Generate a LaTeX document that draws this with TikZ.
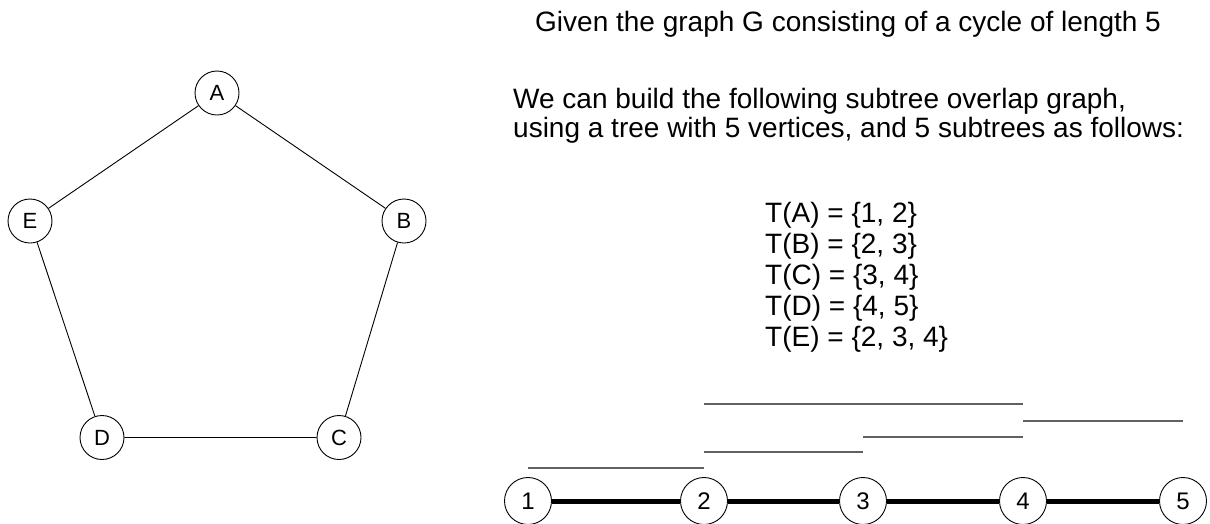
\documentclass[tikz,border=0pt]{standalone}
\usepackage{fontspec}
\setmainfont{Liberation Sans}
\begin{document}
\begin{tikzpicture}[x=1pt,y=-1pt,
  vtx/.style={circle,draw,line width=0.9pt,fill=white,minimum size=44pt,inner sep=0pt,font=\fontsize{22}{26}\selectfont},
  tvtx/.style={circle,draw,line width=0.9pt,fill=white,minimum size=47pt,inner sep=0pt,font=\fontsize{24}{28}\selectfont},
  cyc/.style={line width=0.9pt},
  treeedge/.style={line width=5pt},
  span/.style={line width=1.4pt,draw=black!62},
  txt/.style={anchor=base west,inner sep=0pt,font=\fontsize{28}{32}\selectfont}]
\useasboundingbox (0,0) rectangle (1210,523);

% the 5-cycle G
\node[vtx] (A) at (217,93) {A};
\node[vtx] (B) at (404,221) {B};
\node[vtx] (C) at (339,437.5) {C};
\node[vtx] (D) at (102,437.5) {D};
\node[vtx] (E) at (30,221) {E};
\draw[cyc] (A) -- (B) -- (C) -- (D) -- (E) -- (A);

% explanatory text
\node[txt] (title) at (535,31) {Given the graph G consisting of a cycle of length 5};
\node[txt] (l1) at (513,108) {We can build the following subtree overlap graph,};
\node[txt] (l2) at (513,137) {using a tree with 5 vertices, and 5 subtrees as follows:};
\node[txt] (tA) at (765,222) {T(A) = \{1, 2\}};
\node[txt] (tB) at (765,253) {T(B) = \{2, 3\}};
\node[txt] (tC) at (765,284) {T(C) = \{3, 4\}};
\node[txt] (tD) at (765,315) {T(D) = \{4, 5\}};
\node[txt] (tE) at (765,346) {T(E) = \{2, 3, 4\}};

% the host tree (a path on 5 vertices)
\node[tvtx] (n1) at (528,501) {1};
\node[tvtx] (n2) at (704,501) {2};
\node[tvtx] (n3) at (863,501) {3};
\node[tvtx] (n4) at (1023,501) {4};
\node[tvtx] (n5) at (1183,501) {5};
\draw[treeedge] (n1) -- (n2) -- (n3) -- (n4) -- (n5);

% the subtrees, one line each
\coordinate (yA) at (0,468);
\coordinate (yB) at (0,452);
\coordinate (yC) at (0,437);
\coordinate (yD) at (0,421);
\coordinate (yE) at (0,404);
\draw[span] (n1 |- yA) -- (n2 |- yA);
\draw[span] (n2 |- yB) -- (n3 |- yB);
\draw[span] (n3 |- yC) -- (n4 |- yC);
\draw[span] (n4 |- yD) -- (n5 |- yD);
\draw[span] (n2 |- yE) -- (n4 |- yE);
\end{tikzpicture}
\end{document}
